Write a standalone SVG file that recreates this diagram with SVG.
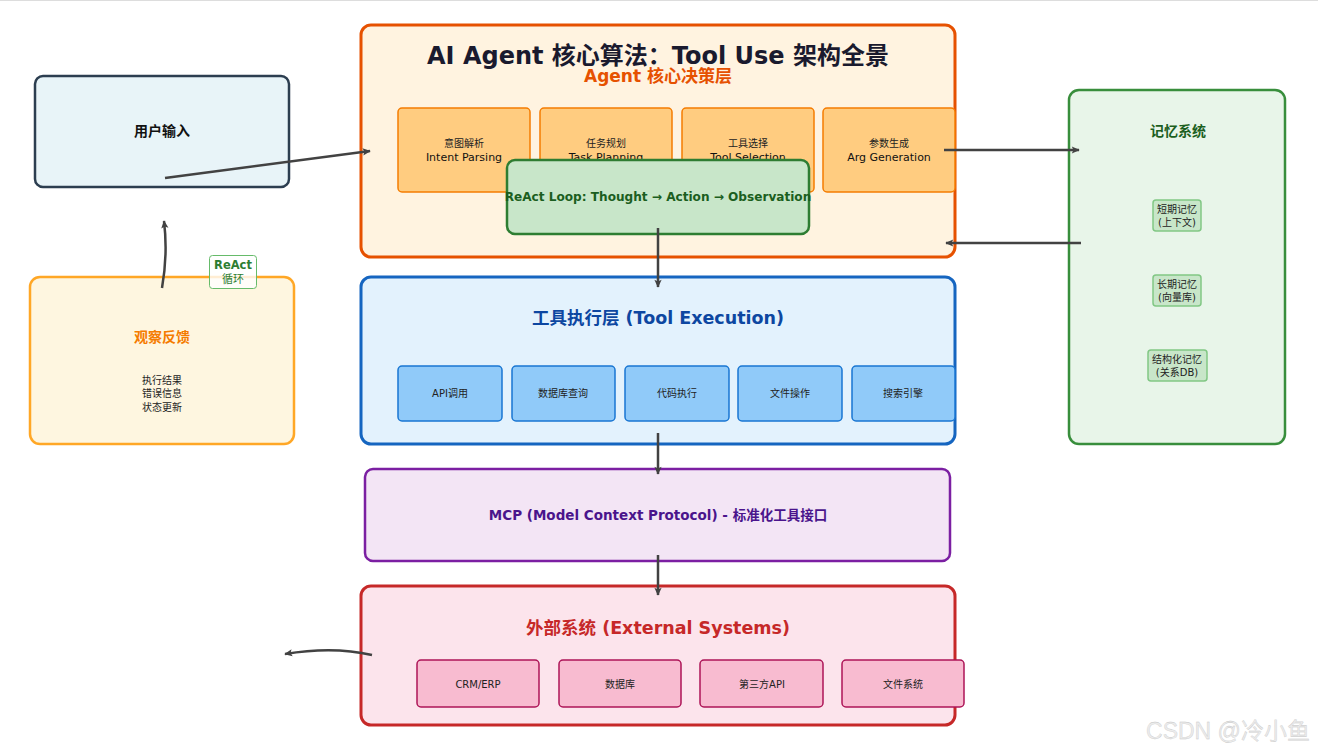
<svg xmlns="http://www.w3.org/2000/svg" width="1318" height="752" viewBox="0 0 1318 752">
<defs>
<marker id="ah" viewBox="0 0 10 10" refX="9" refY="5" markerWidth="9" markerHeight="8" markerUnits="userSpaceOnUse" orient="auto">
<path d="M0,0.5 L10,5 L0,9.5 L2,5 Z" fill="#424242"/>
</marker>
<style>
text{font-family:"DejaVu Sans","Noto Sans CJK SC",sans-serif;text-anchor:middle}
.conn{fill:none;stroke:#424242;stroke-width:2.5;marker-end:url(#ah)}
.sub-o{fill:#ffcc80;stroke:#f57c00;stroke-width:1.5}
.sub-b{fill:#90caf9;stroke:#1976d2;stroke-width:1.5}
.sub-p{fill:#f8bbd0;stroke:#ad1457;stroke-width:1.5}
.sub-g{fill:#c8e6c9;stroke:#81c784;stroke-width:1.5}
.t10{font-size:10px;fill:#222}
.t11{font-size:11px;fill:#111}
</style>
</defs>
<rect x="0" y="0" width="1318" height="752" fill="#ffffff"/>
<line x1="0" y1="0.5" x2="1318" y2="0.5" stroke="#dddddd" stroke-width="1"/>

<g id="agent-core">
<rect x="361" y="25" width="594" height="232" rx="10" fill="#fff3e0" stroke="#e65100" stroke-width="3"/>
<text x="658" y="82" font-size="17" font-weight="bold" fill="#e65100">Agent 核心决策层</text>
<g id="intent"><rect class="sub-o" x="398" y="108" width="132" height="84" rx="4"/><text class="t10" x="464" y="147">意图解析</text><text class="t11" x="464" y="161">Intent Parsing</text></g>
<g id="plan"><rect class="sub-o" x="540" y="108" width="132" height="84" rx="4"/><text class="t10" x="606" y="147">任务规划</text><text class="t11" x="606" y="161">Task Planning</text></g>
<g id="select"><rect class="sub-o" x="682" y="108" width="132" height="84" rx="4"/><text class="t10" x="748" y="147">工具选择</text><text class="t11" x="748" y="161">Tool Selection</text></g>
<g id="arg"><rect class="sub-o" x="823" y="108" width="132" height="84" rx="4"/><text class="t10" x="889" y="147">参数生成</text><text class="t11" x="889" y="161">Arg Generation</text></g>
</g>

<g id="title">
<text x="658" y="64" font-size="24" font-weight="bold" fill="#1a1a2e">AI Agent 核心算法：Tool Use 架构全景</text>
</g>

<g id="react-loop">
<rect x="507" y="160" width="302" height="74" rx="8" fill="#c8e6c9" stroke="#2e7d32" stroke-width="2.5"/>
<text x="658" y="201" font-size="12.1" font-weight="bold" fill="#1b5e20">ReAct Loop: Thought → Action → Observation</text>
</g>

<g id="user-input">
<rect x="35" y="76" width="254" height="111" rx="8" fill="#e8f4f8" stroke="#2c3e50" stroke-width="2.5"/>
<text x="162" y="136" font-size="14" font-weight="bold" fill="#111">用户输入</text>
</g>

<g id="observation">
<rect x="30" y="277" width="264" height="167" rx="10" fill="#fef6e0" stroke="#ffa726" stroke-width="2.5"/>
<text x="162" y="342" font-size="14" font-weight="bold" fill="#f57c00">观察反馈</text>
<text class="t10" x="162" y="384">执行结果</text>
<text class="t10" x="162" y="397">错误信息</text>
<text class="t10" x="162" y="411">状态更新</text>
</g>

<g id="memory">
<rect x="1069" y="90" width="216" height="354" rx="10" fill="#e8f5e9" stroke="#388e3c" stroke-width="2.5"/>
<text x="1178" y="136" font-size="14" font-weight="bold" fill="#1b5e20">记忆系统</text>
<g id="mem-short"><rect class="sub-g" x="1153" y="200" width="48" height="31" rx="3"/><text class="t10" x="1177" y="213">短期记忆</text><text class="t10" x="1177" y="226">(上下文)</text></g>
<g id="mem-long"><rect class="sub-g" x="1153" y="275" width="48" height="31" rx="3"/><text class="t10" x="1177" y="288">长期记忆</text><text class="t10" x="1177" y="301">(向量库)</text></g>
<g id="mem-struct"><rect class="sub-g" x="1148" y="350" width="59" height="31" rx="3"/><text class="t10" x="1177" y="363">结构化记忆</text><text class="t10" x="1177" y="376">(关系DB)</text></g>
</g>

<g id="tool-exec">
<rect x="361" y="277" width="594" height="167" rx="10" fill="#e3f2fd" stroke="#1565c0" stroke-width="3"/>
<text x="658" y="324" font-size="17.5" font-weight="bold" fill="#0d47a1">工具执行层 (Tool Execution)</text>
<g id="api"><rect class="sub-b" x="398" y="366" width="104" height="55" rx="4"/><text class="t10" x="450" y="397">API调用</text></g>
<g id="dbq"><rect class="sub-b" x="512" y="366" width="103" height="55" rx="4"/><text class="t10" x="563" y="397">数据库查询</text></g>
<g id="code"><rect class="sub-b" x="625" y="366" width="104" height="55" rx="4"/><text class="t10" x="677" y="397">代码执行</text></g>
<g id="fileop"><rect class="sub-b" x="738" y="366" width="104" height="55" rx="4"/><text class="t10" x="790" y="397">文件操作</text></g>
<g id="search"><rect class="sub-b" x="852" y="366" width="103" height="55" rx="4"/><text class="t10" x="903" y="397">搜索引擎</text></g>
</g>

<g id="mcp">
<rect x="365" y="469" width="585" height="92" rx="8" fill="#f3e5f5" stroke="#7b1fa2" stroke-width="2.5"/>
<text x="658" y="520" font-size="13.5" font-weight="bold" fill="#4a148c">MCP (Model Context Protocol) - 标准化工具接口</text>
</g>

<g id="external">
<rect x="361" y="586" width="594" height="139" rx="10" fill="#fce4ec" stroke="#c62828" stroke-width="3"/>
<text x="658" y="634" font-size="17.5" font-weight="bold" fill="#c62828">外部系统 (External Systems)</text>
<g id="crm"><rect class="sub-p" x="417" y="660" width="122" height="47" rx="4"/><text class="t10" x="478" y="688">CRM/ERP</text></g>
<g id="db"><rect class="sub-p" x="559" y="660" width="122" height="47" rx="4"/><text class="t10" x="620" y="688">数据库</text></g>
<g id="third"><rect class="sub-p" x="700" y="660" width="123" height="47" rx="4"/><text class="t10" x="762" y="688">第三方API</text></g>
<g id="fs"><rect class="sub-p" x="842" y="660" width="122" height="47" rx="4"/><text class="t10" x="903" y="688">文件系统</text></g>
</g>

<g id="connectors">
<path class="conn" d="M165,178 L370,151"/>
<path class="conn" d="M944,150 L1079,150"/>
<path class="conn" d="M1081,243 L946,243"/>
<path class="conn" d="M658,228 L658,287"/>
<path class="conn" d="M658,433 L658,474"/>
<path class="conn" d="M658,555 L658,595"/>
<path class="conn" d="M162,288 Q168,254 164,221"/>
<path class="conn" d="M372,655 Q333,646 285,654"/>
</g>

<g id="react-label">
<rect x="209.5" y="255.5" width="47" height="33" rx="3" fill="#ffffff" fill-opacity="0.8" stroke="#66bb6a" stroke-width="1"/>
<text x="233" y="269" font-size="11.5" font-weight="bold" fill="#2e7d32">ReAct</text>
<text x="233" y="283" font-size="11" fill="#2e7d32">循环</text>
</g>

<g id="watermark">
<text x="1228" y="739" font-size="23" fill="#ececec" stroke="#c4c4c4" stroke-width="0.3" style="font-family:'Liberation Sans','Noto Sans CJK SC',sans-serif">CSDN @冷小鱼</text>
</g>
</svg>
